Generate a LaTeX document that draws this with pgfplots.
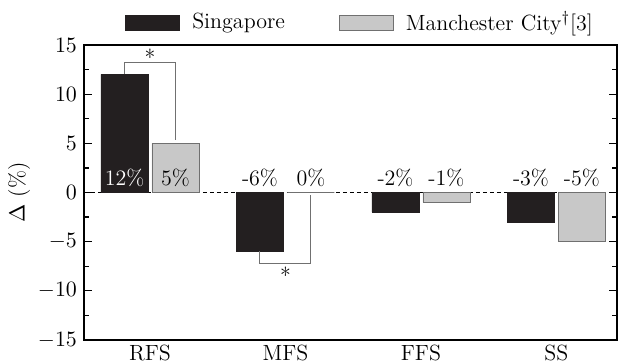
\documentclass[border=0pt]{standalone}
\usepackage{pgfplots}
\pgfplotsset{compat=1.18}
\definecolor{sgblack}{HTML}{231F20}
\definecolor{mcgrey}{HTML}{C8C8C8}
\definecolor{mcedge}{HTML}{707070}
\begin{document}
\begin{tikzpicture}[font=\fontsize{11}{13}\selectfont]
\begin{axis}[
  scale only axis,
  width=266.5pt, height=147.5pt,
  ybar=2pt, bar width=23.5pt,
  xmin=-0.487, xmax=3.447,
  ymin=-15, ymax=15,
  xtick={0,1,2,3},
  xticklabels={RFS,MFS,FFS,SS},
  xtick style={draw=none},
  xticklabel style={yshift=1pt},
  ytick={-15,-10,-5,0,5,10,15},
  minor y tick num=1,
  ytick pos=both,
  tick align=inside,
  major tick length=4pt, minor tick length=2.5pt,
  axis line style={line width=0.8pt},
  every tick/.style={line width=0.6pt, black},
  ylabel={$\Delta$ (\%)},
  ylabel style={yshift=-3pt},
  legend columns=2,
  legend style={at={(0.52,1)}, anchor=south, yshift=1.5pt, draw=none, fill=none,
    /tikz/every odd column/.append style={column sep=4pt},
    /tikz/every even column/.append style={column sep=25pt}},
  legend image code/.code={\draw[#1] (0pt,-3.75pt) rectangle (27pt,3.75pt);},
]
\draw[dash pattern=on 2pt off 1.5pt, line width=0.5pt] (axis cs:-0.487,0) -- (axis cs:3.447,0);
\addplot[fill=sgblack, draw=sgblack] coordinates {(0,12) (1,-6) (2,-2) (3,-3)};
\addplot[fill=mcgrey, draw=mcedge] coordinates {(0,5) (1,0) (2,-1) (3,-5)};
\legend{Singapore, Manchester City$^\dagger$[3]}
% value labels
\node[anchor=base, text=white] at (axis cs:-0.188,0.75) {12\%};
\node[anchor=base] at (axis cs:0.188,0.75) {5\%};
\node[anchor=base] at (axis cs:0.812,0.75) {-6\%};
\node[anchor=base] at (axis cs:1.188,0.75) {0\%};
\node[anchor=base] at (axis cs:1.812,0.75) {-2\%};
\node[anchor=base] at (axis cs:2.188,0.75) {-1\%};
\node[anchor=base] at (axis cs:2.812,0.75) {-3\%};
\node[anchor=base] at (axis cs:3.188,0.75) {-5\%};
% significance brackets
\draw[mcedge, line width=0.5pt] (axis cs:-0.188,12) -- (axis cs:-0.188,13.25) -- (axis cs:0.188,13.25) -- (axis cs:0.188,5.3);
\node[anchor=base] at (axis cs:0,12.9) {*};
\draw[mcedge, line width=0.5pt] (axis cs:0.812,-6) -- (axis cs:0.812,-7.2) -- (axis cs:1.188,-7.2) -- (axis cs:1.188,-0.3);
\node[anchor=base] at (axis cs:1,-9.23) {*};
\end{axis}
\pgfresetboundingbox
\path[use as bounding box] ([xshift=-42pt,yshift=-11.5pt]current axis.south west) rectangle ([xshift=0.5pt,yshift=22.5pt]current axis.north east);
\end{tikzpicture}
\end{document}
